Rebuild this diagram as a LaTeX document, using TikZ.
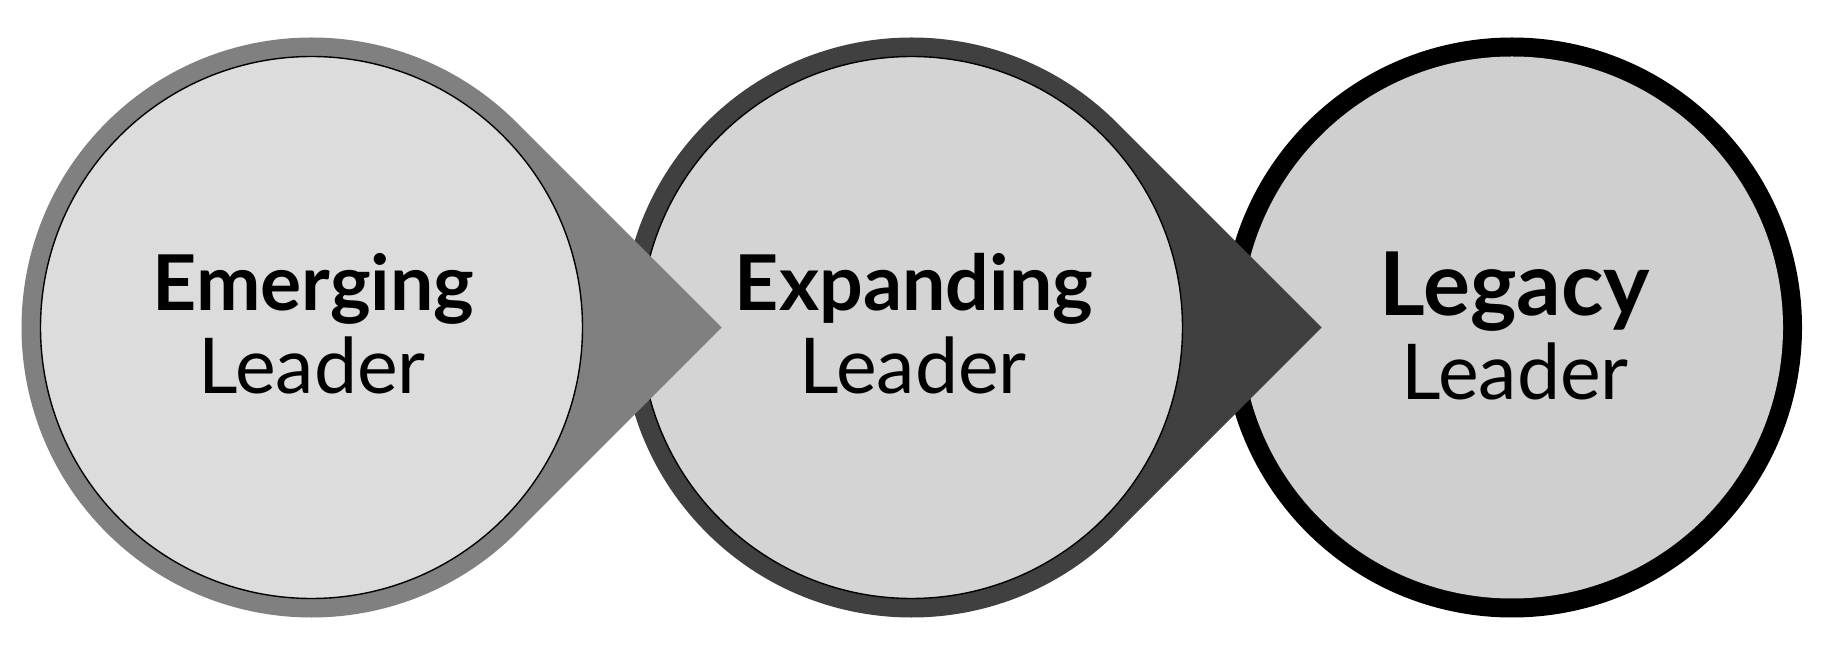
\documentclass[tikz,border=0pt]{standalone}
\usepackage{fontspec}
\setmainfont{Lato}
\usetikzlibrary{calc}
\definecolor{ringA}{HTML}{808080}
\definecolor{ringB}{HTML}{404040}
\definecolor{fillA}{HTML}{DCDCDC}
\definecolor{fillB}{HTML}{D4D4D4}
\definecolor{fillC}{HTML}{CFCFCF}
\begin{document}
\begin{tikzpicture}[x=1pt,y=1pt,
  innerdisc/.style={draw=black,line width=1.4pt},
  headword/.style={anchor=base,inner sep=0pt,font=\bfseries\fontsize{77}{77}\selectfont},
  headwordbig/.style={anchor=base,inner sep=0pt,font=\bfseries\fontsize{88}{88}\selectfont},
  subword/.style={anchor=base,inner sep=0pt,font=\fontsize{77}{77}\selectfont}]
\useasboundingbox (0,0) rectangle (1829,651);
\coordinate (c1) at (311.5,323.5);
\coordinate (c2) at (911.5,323.5);
\coordinate (c3) at (1512,323.5);
\coordinate (t1) at (721.6,323.5);
\coordinate (t2) at (1321.6,323.5);
% stage 3
\fill[black] (c3) circle[radius=290pt];
\fill[fillC] (c3) circle[radius=271pt];
% stage 2
\fill[ringB] (t2) -- ($(c2)+(45:290pt)$) arc[start angle=45,end angle=315,radius=290pt] -- cycle;
\filldraw[innerdisc,fill=fillB] (c2) circle[radius=271pt];
% stage 1
\fill[ringA] (t1) -- ($(c1)+(45:290pt)$) arc[start angle=45,end angle=315,radius=290pt] -- cycle;
\filldraw[innerdisc,fill=fillA] (c1) circle[radius=271pt];
% labels
\node[headword] (e1) at (313.5,340) {Emerging};
\node[subword] (l1) at (312,257.7) {Leader};
\node[headword] (e2) at (914,340) {Expanding};
\node[subword] (l2) at (913,257.7) {Leader};
\node[headwordbig] (e3) at (1515,335.3) {Legacy};
\node[subword] (l3) at (1515,251) {Leader};
\end{tikzpicture}
\end{document}
